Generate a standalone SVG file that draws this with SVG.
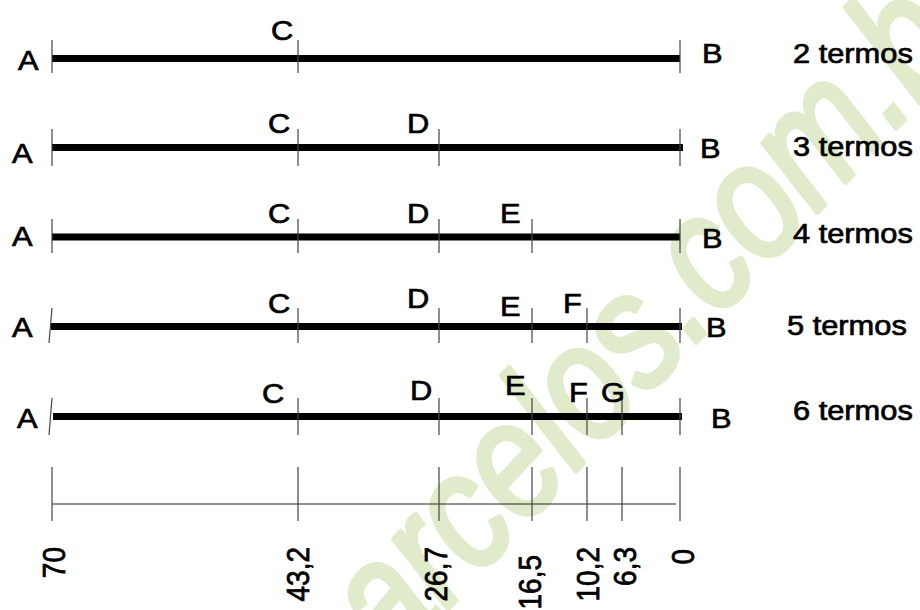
<svg xmlns="http://www.w3.org/2000/svg" width="920" height="610" viewBox="0 0 920 610">
<style>
.t{font-family:"Liberation Sans",Arial,sans-serif;font-size:28px;fill:#000;stroke:#000;stroke-width:0.7}
.bar{stroke:#000;stroke-width:7;fill:none}
.tk{stroke:#444;stroke-width:1.2;fill:none}
.ax{stroke:#222;stroke-width:1.2;fill:none}
.wm{font-family:"Liberation Sans",Arial,sans-serif;font-style:italic;font-size:165px;fill:#e0ebcb;stroke:#e0ebcb;stroke-width:5;stroke-linejoin:round}
</style>
<rect width="920" height="610" fill="#fff"/>
<text class="wm" transform="translate(318,748) rotate(-47) scale(0.82,1)">marcelos.com.br</text>

<g id="connectors">
  <line class="bar" x1="52" y1="58.5" x2="680" y2="58.5"/>
  <line class="bar" x1="52" y1="147.5" x2="683" y2="147.5"/>
  <line class="bar" x1="52" y1="237" x2="680" y2="237"/>
  <line class="bar" x1="51" y1="326.5" x2="682" y2="326.5"/>
  <line class="bar" x1="53" y1="416.5" x2="682" y2="416.5"/>
</g>

<g id="row2termos">
  <path class="tk" d="M52 40V73M298 40V73M680 40V73"/>
  <text class="t" transform="translate(18,70) scale(1.1,1)">A</text>
  <text class="t" transform="translate(271,40) scale(1.1,1)">C</text>
  <text class="t" transform="translate(702,63) scale(1.1,1)">B</text>
  <text class="t" transform="translate(793,63) scale(1.1,1)">2 termos</text>
</g>

<g id="row3termos">
  <path class="tk" d="M52 129V166M298 129V166M439 129V166M680 129V166"/>
  <text class="t" transform="translate(12,163) scale(1.1,1)">A</text>
  <text class="t" transform="translate(268,133) scale(1.1,1)">C</text>
  <text class="t" transform="translate(407,133) scale(1.1,1)">D</text>
  <text class="t" transform="translate(700,158) scale(1.1,1)">B</text>
  <text class="t" transform="translate(793,156) scale(1.1,1)">3 termos</text>
</g>

<g id="row4termos">
  <path class="tk" d="M52 219V253M298 219V253M439 219V253M532 219V253M680 219V253"/>
  <text class="t" transform="translate(12,246) scale(1.1,1)">A</text>
  <text class="t" transform="translate(268,223) scale(1.1,1)">C</text>
  <text class="t" transform="translate(407,223) scale(1.1,1)">D</text>
  <text class="t" transform="translate(500,223) scale(1.1,1)">E</text>
  <text class="t" transform="translate(702,248) scale(1.1,1)">B</text>
  <text class="t" transform="translate(793,243) scale(1.1,1)">4 termos</text>
</g>

<g id="row5termos">
  <path class="tk" d="M52 308L49 343M298 308V343M439 308V343M532 308V343M587 308V343M680 308V343"/>
  <text class="t" transform="translate(12,337) scale(1.1,1)">A</text>
  <text class="t" transform="translate(268,313) scale(1.1,1)">C</text>
  <text class="t" transform="translate(407,308) scale(1.1,1)">D</text>
  <text class="t" transform="translate(500,316) scale(1.1,1)">E</text>
  <text class="t" transform="translate(563,313) scale(1.1,1)">F</text>
  <text class="t" transform="translate(706,337) scale(1.1,1)">B</text>
  <text class="t" transform="translate(787,335) scale(1.1,1)">5 termos</text>
</g>

<g id="row6termos">
  <path class="tk" d="M52 398L49 435M298 398V435M439 398V435M532 398V435M587 398V435M622 398V435M680 398V435"/>
  <text class="t" transform="translate(17,428) scale(1.1,1)">A</text>
  <text class="t" transform="translate(262,403) scale(1.1,1)">C</text>
  <text class="t" transform="translate(410,400) scale(1.1,1)">D</text>
  <text class="t" transform="translate(505,395) scale(1.1,1)">E</text>
  <text class="t" transform="translate(569,402) scale(1.1,1)">F</text>
  <text class="t" transform="translate(601,402) scale(1.1,1)">G</text>
  <text class="t" transform="translate(711,428) scale(1.1,1)">B</text>
  <text class="t" transform="translate(793,420) scale(1.1,1)">6 termos</text>
</g>

<g id="scale">
  <path class="ax" d="M52 504H676"/>
  <path class="tk" d="M52 467V521M298 467V521M439 467V521M532 467V521M587 467V521M622 467V521M680 467V521"/>
  <text class="t" text-anchor="end" transform="translate(65,547) scale(1.1,1) rotate(-90)">70</text>
  <text class="t" text-anchor="end" transform="translate(309,547) scale(1.1,1) rotate(-90)">43,2</text>
  <text class="t" text-anchor="end" transform="translate(447,547) scale(1.1,1) rotate(-90)">26,7</text>
  <text class="t" text-anchor="end" transform="translate(541,555) scale(1.1,1) rotate(-90)">16,5</text>
  <text class="t" text-anchor="end" transform="translate(599,547) scale(1.1,1) rotate(-90)">10,2</text>
  <text class="t" text-anchor="end" transform="translate(636,547) scale(1.1,1) rotate(-90)">6,3</text>
  <text class="t" text-anchor="end" transform="translate(694,549) scale(1.1,1) rotate(-90)">0</text>
</g>
</svg>
